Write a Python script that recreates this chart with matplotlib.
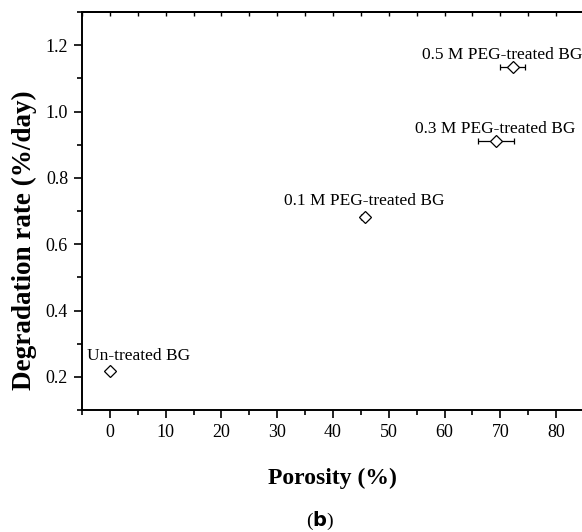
import matplotlib
matplotlib.use("Agg")
import matplotlib.pyplot as plt
from matplotlib.ticker import MultipleLocator

plt.rcParams['font.family'] = ['Liberation Serif', 'DejaVu Serif']
plt.rcParams['mathtext.fontset'] = 'custom'
plt.rcParams['mathtext.rm'] = 'Liberation Serif'
plt.rcParams['mathtext.bf'] = 'DejaVu Sans:bold'

# Data
labels = ["Un-treated BG", "0.1 M PEG-treated BG", "0.3 M PEG-treated BG", "0.5 M PEG-treated BG"]
porosity = [0.0, 45.7, 69.2, 72.2]
porosity_err = [0.0, 0.6, 3.2, 2.2]
degradation = [0.219, 0.682, 0.910, 1.135]

# label anchor positions (data coords)
label_x = [5.1, 45.6, 69.1, 70.3]
label_y = [0.252, 0.719, 0.936, 1.159]

W, H = 582, 532
fig = plt.figure(figsize=(W / 100, H / 100), dpi=100)
ax = fig.add_axes([82 / W, (H - 410) / H, (584 - 82) / W, (410 - 12) / H])

ax.errorbar(porosity, degradation, xerr=porosity_err, fmt='D', ms=6.5,
            mfc='white', mec='black', mew=0.9, ecolor='black', elinewidth=0.9,
            capsize=2.2, capthick=0.9, zorder=3)

for t, x, y in zip(labels, label_x, label_y):
    ax.text(x, y, t, ha='center', va='baseline', fontsize=12.5)

ax.set_xlim(-5, 85)
ax.set_ylim(0.1, 1.3)
ax.xaxis.set_major_locator(MultipleLocator(10))
ax.xaxis.set_minor_locator(MultipleLocator(5))
ax.yaxis.set_major_locator(MultipleLocator(0.2))
ax.yaxis.set_minor_locator(MultipleLocator(0.1))
ax.tick_params(axis='both', which='major', direction='out', length=6, width=1.2,
               labelsize=13, pad=4)
ax.tick_params(axis='both', which='minor', direction='out', length=3.5, width=1.2)
ax.tick_params(axis='x', which='both', top=False)
ax.tick_params(axis='y', which='both', right=False)

# top ticks pointing inward
sec = ax.secondary_xaxis('top')
sec.xaxis.set_major_locator(MultipleLocator(5))
sec.tick_params(axis='x', which='major', direction='in', length=3, width=1.0, labeltop=False)
sec.xaxis.set_minor_locator(MultipleLocator(100))
sec.spines['top'].set_linewidth(1.4)

for s in ['left', 'bottom', 'top']:
    ax.spines[s].set_linewidth(1.4)
ax.spines['right'].set_visible(False)

ax.yaxis.set_major_formatter(matplotlib.ticker.FormatStrFormatter('%.1f'))

fig.text(332 / W, 1 - 478 / H, "Porosity (%)", ha='center', va='center',
         fontsize=17, fontweight='bold')
fig.text(24 / W, 1 - 240 / H, "Degradation rate (%/day)", ha='center', va='center',
         fontsize=19.5, fontweight='bold', rotation=90)
fig.text(320 / W, 1 - 521 / H, r"($\mathbf{b}$)", ha='center', va='center', fontsize=14)

fig.savefig("out.png", dpi=100)
